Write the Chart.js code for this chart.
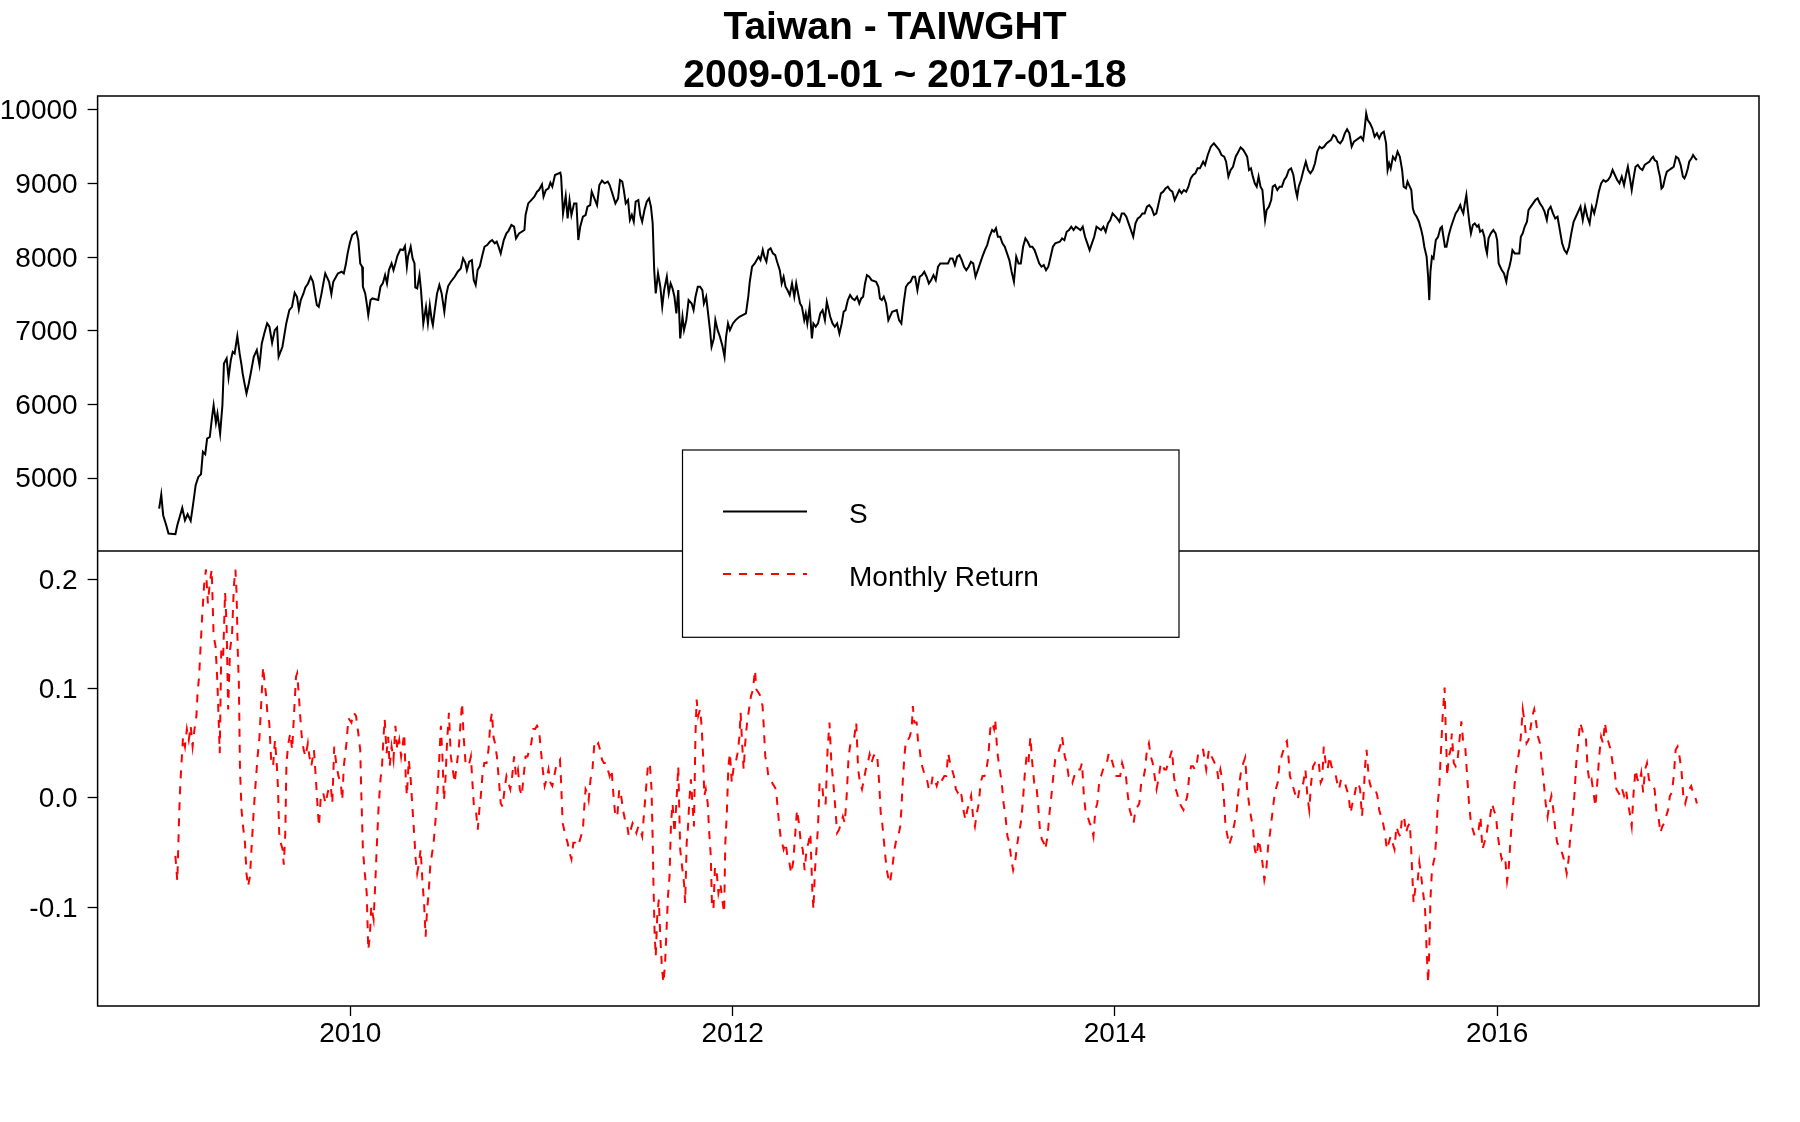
<!DOCTYPE html>
<html>
<head>
<meta charset="utf-8">
<script src="https://cdn.jsdelivr.net/npm/chart.js@4.4.0/dist/chart.umd.min.js"></script>
<style>
  html, body { margin: 0; padding: 0; background: #fff; }
  canvas { display: block; }
</style>
</head>
<body>
<canvas id="chart" width="1800" height="1122"></canvas>
<script>
const titleLines = ["Taiwan - TAIWGHT", "2009-01-01 ~ 2017-01-18"];
const yearTicks = [2010, 2012, 2014, 2016];
const priceTicks = [5000, 6000, 7000, 8000, 9000, 10000];
const returnTicks = [-0.1, 0.0, 0.1, 0.2];
const seriesNames = ["S", "Monthly Return"];

// index level S, [decimal year, value]
const sPoints = [
  [2009.000,4588],[2009.011,4778],[2009.021,4498],[2009.037,4362],[2009.049,4248],[2009.085,4239],[2009.095,4362],[2009.121,4597],[2009.135,4430],[2009.149,4511],
  [2009.165,4421],[2009.177,4634],[2009.191,4905],[2009.205,5018],[2009.219,5055],[2009.229,5358],[2009.241,5326],[2009.251,5539],[2009.265,5562],[2009.277,5834],
  [2009.285,5992],[2009.297,5752],[2009.305,5879],[2009.319,5607],[2009.331,5992],[2009.339,6558],[2009.353,6626],[2009.363,6368],[2009.375,6604],[2009.385,6717],
  [2009.395,6694],[2009.409,6930],[2009.421,6694],[2009.431,6536],[2009.437,6422],[2009.445,6309],[2009.457,6151],[2009.469,6287],[2009.479,6422],[2009.495,6649],
  [2009.511,6739],[2009.525,6536],[2009.537,6830],[2009.551,6975],[2009.565,7102],[2009.577,7057],[2009.591,6839],[2009.605,7011],[2009.617,7047],[2009.625,6649],
  [2009.645,6785],[2009.665,7102],[2009.681,7283],[2009.695,7328],[2009.709,7518],[2009.721,7464],[2009.731,7292],[2009.741,7419],[2009.755,7509],[2009.765,7591],
  [2009.779,7645],[2009.793,7736],[2009.805,7668],[2009.825,7351],[2009.835,7328],[2009.849,7500],[2009.859,7645],[2009.869,7781],[2009.889,7668],[2009.901,7500],
  [2009.911,7668],[2009.935,7781],[2009.955,7804],[2009.966,7781],[2009.976,7894],[2009.986,8053],[2009.998,8198],[2010.010,8302],[2010.032,8347],[2010.042,8234],
  [2010.052,7917],[2010.062,7872],[2010.066,7600],[2010.078,7509],[2010.086,7373],[2010.094,7215],[2010.106,7419],[2010.116,7441],[2010.146,7419],[2010.158,7600],
  [2010.170,7645],[2010.182,7758],[2010.192,7645],[2010.202,7826],[2010.216,7917],[2010.226,7826],[2010.236,7917],[2010.246,8017],[2010.262,8107],[2010.276,8098],
  [2010.286,8152],[2010.296,7872],[2010.302,8008],[2010.316,8143],[2010.326,7985],[2010.336,7917],[2010.340,7591],[2010.350,7577],[2010.362,7758],[2010.370,7555],
  [2010.382,7102],[2010.396,7328],[2010.406,7102],[2010.416,7351],[2010.426,7147],[2010.432,7079],[2010.442,7283],[2010.454,7509],[2010.466,7623],[2010.478,7509],
  [2010.492,7260],[2010.502,7487],[2010.512,7609],[2010.526,7668],[2010.546,7736],[2010.562,7804],[2010.578,7849],[2010.590,7985],[2010.602,7926],[2010.610,7826],
  [2010.622,7940],[2010.636,7962],[2010.646,7690],[2010.656,7623],[2010.666,7826],[2010.678,7881],[2010.690,8017],[2010.702,8143],[2010.716,8166],[2010.730,8211],
  [2010.742,8234],[2010.756,8189],[2010.766,8211],[2010.776,8143],[2010.787,8053],[2010.803,8234],[2010.817,8325],[2010.827,8356],[2010.843,8438],[2010.857,8415],
  [2010.867,8257],[2010.883,8325],[2010.911,8370],[2010.917,8574],[2010.931,8732],[2010.947,8777],[2010.963,8823],[2010.977,8891],[2010.987,8913],[2011.003,8990],
  [2011.011,8823],[2011.023,8913],[2011.037,8936],[2011.047,9013],[2011.057,8959],[2011.071,9117],[2011.099,9149],[2011.103,9095],[2011.113,8596],[2011.127,8832],
  [2011.137,8528],[2011.147,8777],[2011.157,8574],[2011.171,8732],[2011.183,8732],[2011.193,8234],[2011.203,8415],[2011.217,8551],[2011.231,8574],[2011.241,8687],
  [2011.255,8709],[2011.263,8891],[2011.277,8800],[2011.291,8709],[2011.303,8981],[2011.317,9040],[2011.331,9004],[2011.347,9027],[2011.357,8981],[2011.371,8868],
  [2011.387,8732],[2011.401,8800],[2011.411,9049],[2011.423,9027],[2011.431,8913],[2011.441,8732],[2011.453,8777],[2011.463,8506],[2011.473,8574],[2011.483,8483],
  [2011.493,8755],[2011.507,8777],[2011.517,8574],[2011.527,8483],[2011.539,8642],[2011.551,8755],[2011.563,8800],[2011.573,8687],[2011.582,8460],[2011.590,7826],
  [2011.598,7509],[2011.610,7781],[2011.622,7600],[2011.632,7328],[2011.642,7555],[2011.656,7736],[2011.666,7509],[2011.676,7645],[2011.686,7577],[2011.696,7464],
  [2011.706,7238],[2011.716,7555],[2011.726,6898],[2011.738,7192],[2011.746,7011],[2011.758,7147],[2011.770,7419],[2011.786,7373],[2011.796,7283],[2011.806,7464],
  [2011.818,7600],[2011.830,7600],[2011.842,7555],[2011.850,7373],[2011.862,7464],[2011.870,7283],[2011.882,7011],[2011.890,6785],[2011.902,6898],[2011.910,7147],
  [2011.922,7011],[2011.934,6921],[2011.946,6807],[2011.958,6649],[2011.966,6921],[2011.976,7102],[2011.986,7011],[2012.002,7102],[2012.016,7147],[2012.036,7192],
  [2012.070,7238],[2012.082,7464],[2012.090,7668],[2012.102,7872],[2012.116,7917],[2012.136,8008],[2012.146,7962],[2012.158,8098],[2012.166,8008],[2012.177,7940],
  [2012.187,8098],[2012.199,8121],[2012.211,8053],[2012.223,8030],[2012.233,7940],[2012.247,7826],[2012.257,7645],[2012.267,7736],[2012.277,7600],[2012.287,7555],
  [2012.299,7487],[2012.311,7645],[2012.323,7464],[2012.333,7645],[2012.343,7509],[2012.353,7373],[2012.363,7328],[2012.375,7147],[2012.383,7238],[2012.391,7102],
  [2012.403,7328],[2012.415,6898],[2012.423,7102],[2012.435,7057],[2012.447,7102],[2012.459,7238],[2012.471,7283],[2012.483,7147],[2012.493,7396],[2012.503,7283],
  [2012.511,7192],[2012.523,7102],[2012.535,7057],[2012.547,7102],[2012.559,6966],[2012.571,7102],[2012.581,7260],[2012.591,7283],[2012.603,7419],[2012.615,7487],
  [2012.627,7441],[2012.639,7419],[2012.651,7464],[2012.663,7373],[2012.673,7441],[2012.683,7464],[2012.693,7645],[2012.703,7758],[2012.715,7736],[2012.727,7690],
  [2012.751,7668],[2012.763,7600],[2012.771,7441],[2012.781,7419],[2012.791,7464],[2012.803,7373],[2012.815,7147],[2012.823,7192],[2012.835,7260],[2012.859,7283],
  [2012.871,7147],[2012.883,7102],[2012.895,7373],[2012.907,7600],[2012.919,7645],[2012.931,7668],[2012.943,7736],[2012.955,7736],[2012.967,7555],[2012.979,7736],
  [2012.991,7758],[2013.003,7804],[2013.015,7736],[2013.027,7645],[2013.039,7690],[2013.051,7758],[2013.063,7690],[2013.075,7872],[2013.087,7917],[2013.111,7917],
  [2013.127,7917],[2013.139,7985],[2013.151,7985],[2013.163,7894],[2013.175,8008],[2013.187,8030],[2013.199,7962],[2013.211,7872],[2013.223,7826],[2013.235,7872],
  [2013.247,7940],[2013.259,7917],[2013.271,7736],[2013.283,7826],[2013.295,7917],[2013.307,8008],[2013.320,8098],[2013.332,8166],[2013.344,8279],[2013.358,8370],
  [2013.368,8347],[2013.378,8393],[2013.388,8279],[2013.400,8279],[2013.412,8189],[2013.424,8143],[2013.436,8053],[2013.448,7962],[2013.460,7804],[2013.472,7668],
  [2013.484,8008],[2013.496,7917],[2013.508,7917],[2013.520,8143],[2013.532,8257],[2013.544,8211],[2013.556,8143],[2013.568,8143],[2013.580,8098],[2013.592,8008],
  [2013.604,7917],[2013.616,7872],[2013.628,7894],[2013.640,7826],[2013.652,7872],[2013.664,8008],[2013.676,8143],[2013.688,8189],[2013.712,8211],[2013.724,8257],
  [2013.736,8234],[2013.748,8347],[2013.760,8370],[2013.772,8415],[2013.784,8370],[2013.796,8415],[2013.820,8370],[2013.832,8415],[2013.844,8279],[2013.856,8189],
  [2013.868,8098],[2013.880,8189],[2013.892,8279],[2013.904,8415],[2013.928,8370],[2013.940,8415],[2013.952,8347],[2013.964,8460],[2013.976,8506],[2013.988,8596],
  [2014.012,8528],[2014.024,8483],[2014.036,8596],[2014.048,8596],[2014.060,8551],[2014.072,8460],[2014.084,8370],[2014.096,8279],[2014.108,8460],[2014.120,8528],
  [2014.132,8551],[2014.144,8596],[2014.156,8596],[2014.168,8687],[2014.180,8709],[2014.193,8664],[2014.205,8574],[2014.217,8596],[2014.229,8732],[2014.241,8868],
  [2014.253,8891],[2014.265,8936],[2014.277,8959],[2014.289,8913],[2014.301,8891],[2014.313,8777],[2014.325,8845],[2014.337,8913],[2014.349,8868],[2014.361,8913],
  [2014.373,8891],[2014.385,8959],[2014.397,9072],[2014.409,9117],[2014.421,9140],[2014.433,9208],[2014.445,9208],[2014.462,9298],[2014.472,9253],[2014.486,9389],
  [2014.502,9502],[2014.518,9547],[2014.532,9502],[2014.546,9457],[2014.558,9389],[2014.572,9366],[2014.582,9298],[2014.594,9095],[2014.606,9185],[2014.618,9230],
  [2014.632,9366],[2014.642,9412],[2014.658,9493],[2014.672,9457],[2014.682,9412],[2014.692,9366],[2014.702,9185],[2014.712,9208],[2014.722,9095],[2014.732,9004],
  [2014.742,8959],[2014.752,9095],[2014.762,8959],[2014.772,8913],[2014.778,8732],[2014.786,8506],[2014.794,8642],[2014.806,8687],[2014.818,8777],[2014.826,8959],
  [2014.838,8981],[2014.850,8913],[2014.862,8959],[2014.874,8959],[2014.886,9049],[2014.898,9095],[2014.910,9185],[2014.922,9208],[2014.934,9117],[2014.946,8913],
  [2014.954,8823],[2014.962,8959],[2014.974,9049],[2014.987,9185],[2014.999,9298],[2015.011,9185],[2015.023,9140],[2015.035,9185],[2015.047,9276],[2015.059,9434],
  [2015.071,9502],[2015.083,9479],[2015.095,9502],[2015.107,9547],[2015.119,9570],[2015.131,9593],[2015.143,9661],[2015.155,9638],[2015.167,9570],[2015.179,9547],
  [2015.191,9593],[2015.203,9683],[2015.215,9738],[2015.227,9683],[2015.239,9502],[2015.251,9570],[2015.263,9593],[2015.275,9615],[2015.287,9638],[2015.299,9593],
  [2015.307,9751],[2015.315,9955],[2015.323,9864],[2015.335,9819],[2015.347,9751],[2015.359,9638],[2015.371,9683],[2015.383,9615],[2015.395,9683],[2015.407,9706],
  [2015.419,9547],[2015.427,9185],[2015.435,9276],[2015.443,9208],[2015.455,9366],[2015.467,9321],[2015.479,9434],[2015.491,9366],[2015.503,9185],[2015.511,8959],
  [2015.523,8936],[2015.531,9027],[2015.543,8959],[2015.551,8913],[2015.559,8664],[2015.567,8596],[2015.579,8551],[2015.591,8483],[2015.603,8370],[2015.611,8279],
  [2015.619,8143],[2015.631,8008],[2015.639,7736],[2015.645,7419],[2015.651,7804],[2015.659,8008],[2015.667,7985],[2015.679,8234],[2015.691,8279],[2015.703,8393],
  [2015.711,8415],[2015.719,8279],[2015.727,8143],[2015.735,8143],[2015.747,8302],[2015.759,8415],[2015.771,8506],[2015.783,8596],[2015.795,8642],[2015.807,8709],
  [2015.815,8642],[2015.823,8596],[2015.831,8732],[2015.839,8845],[2015.847,8642],[2015.855,8460],[2015.863,8325],[2015.873,8438],[2015.883,8460],[2015.895,8415],
  [2015.903,8438],[2015.911,8347],[2015.923,8370],[2015.933,8279],[2015.939,8143],[2015.947,8053],[2015.955,8257],[2015.967,8325],[2015.980,8370],[2015.992,8325],
  [2016.000,8234],[2016.008,7917],[2016.016,7872],[2016.024,7826],[2016.036,7781],[2016.048,7668],[2016.056,7804],[2016.064,7872],[2016.072,7962],[2016.080,8098],
  [2016.092,8053],[2016.116,8053],[2016.124,8279],[2016.134,8325],[2016.144,8415],[2016.156,8483],[2016.164,8642],[2016.176,8687],[2016.188,8732],[2016.200,8777],
  [2016.212,8800],[2016.224,8732],[2016.236,8687],[2016.248,8619],[2016.260,8506],[2016.268,8642],[2016.280,8687],[2016.292,8596],[2016.304,8528],[2016.316,8551],
  [2016.328,8370],[2016.340,8189],[2016.352,8098],[2016.364,8053],[2016.376,8143],[2016.388,8325],[2016.400,8483],[2016.412,8551],[2016.424,8619],[2016.436,8687],
  [2016.448,8506],[2016.460,8687],[2016.472,8551],[2016.484,8460],[2016.496,8687],[2016.508,8596],[2016.520,8732],[2016.532,8891],[2016.544,9004],[2016.556,9049],
  [2016.568,9027],[2016.580,9049],[2016.592,9095],[2016.604,9185],[2016.616,9117],[2016.628,9049],[2016.640,9004],[2016.652,9095],[2016.664,8981],[2016.676,9140],
  [2016.684,9230],[2016.696,9049],[2016.704,8913],[2016.712,9049],[2016.724,9230],[2016.736,9253],[2016.748,9208],[2016.760,9185],[2016.772,9253],[2016.784,9276],
  [2016.796,9298],[2016.808,9344],[2016.816,9366],[2016.824,9321],[2016.836,9298],[2016.844,9185],[2016.852,9095],[2016.860,8936],[2016.868,8959],[2016.880,9095],
  [2016.888,9162],[2016.900,9185],[2016.912,9208],[2016.924,9230],[2016.936,9366],[2016.948,9344],[2016.960,9253],[2016.972,9095],[2016.980,9072],[2016.988,9117],
  [2016.998,9208],[2017.005,9298],[2017.017,9344],[2017.025,9389],[2017.037,9344],[2017.045,9321]
];

// monthly return, [decimal year, value]
const rPoints = [
  [2009.085,-0.053],[2009.095,-0.076],[2009.105,-0.014],[2009.111,0.014],[2009.117,0.032],[2009.125,0.056],[2009.135,0.047],[2009.145,0.063],[2009.155,0.053],[2009.165,0.066],
  [2009.175,0.047],[2009.185,0.063],[2009.195,0.075],[2009.201,0.096],[2009.209,0.111],[2009.217,0.139],[2009.225,0.166],[2009.235,0.194],[2009.245,0.209],[2009.255,0.178],
  [2009.265,0.197],[2009.275,0.209],[2009.285,0.148],[2009.295,0.139],[2009.305,0.105],[2009.317,0.041],[2009.325,0.136],[2009.335,0.130],[2009.345,0.188],[2009.353,0.157],
  [2009.361,0.081],[2009.371,0.136],[2009.381,0.148],[2009.391,0.194],[2009.399,0.209],[2009.405,0.188],[2009.411,0.136],[2009.417,0.105],[2009.423,0.026],[2009.431,-0.011],
  [2009.439,-0.026],[2009.449,-0.041],[2009.457,-0.069],[2009.465,-0.081],[2009.475,-0.072],[2009.485,-0.041],[2009.495,-0.011],[2009.505,0.014],[2009.515,0.038],[2009.525,0.056],
  [2009.536,0.093],[2009.544,0.120],[2009.552,0.105],[2009.560,0.093],[2009.566,0.078],[2009.576,0.069],[2009.586,0.035],[2009.596,0.029],[2009.606,0.053],[2009.616,0.029],
  [2009.622,0.008],[2009.628,-0.032],[2009.636,-0.041],[2009.646,-0.047],[2009.652,-0.061],[2009.660,-0.032],[2009.666,0.032],[2009.676,0.050],[2009.686,0.059],[2009.696,0.044],
  [2009.706,0.078],[2009.716,0.111],[2009.722,0.114],[2009.730,0.096],[2009.738,0.075],[2009.746,0.056],[2009.756,0.044],[2009.766,0.038],[2009.778,0.050],[2009.786,0.038],
  [2009.796,0.029],[2009.810,0.044],[2009.820,0.017],[2009.830,-0.011],[2009.836,-0.026],[2009.846,0.002],[2009.858,0.005],[2009.870,-0.005],[2009.886,0.008],[2009.898,0.011],
  [2009.906,-0.005],[2009.916,0.047],[2009.926,0.032],[2009.938,0.020],[2009.950,0.014],[2009.958,-0.002],[2009.966,0.029],[2009.980,0.050],[2009.990,0.073],[2010.006,0.069],
  [2010.018,0.078],[2010.030,0.075],[2010.042,0.059],[2010.052,0.044],[2010.058,0.002],[2010.066,-0.047],[2010.076,-0.069],[2010.086,-0.087],[2010.094,-0.139],[2010.102,-0.127],
  [2010.110,-0.099],[2010.122,-0.111],[2010.130,-0.081],[2010.138,-0.047],[2010.148,-0.008],[2010.158,0.017],[2010.166,0.029],[2010.174,0.056],[2010.180,0.072],[2010.190,0.041],
  [2010.198,0.056],[2010.206,0.029],[2010.216,0.047],[2010.226,0.035],[2010.236,0.066],[2010.246,0.044],[2010.256,0.053],[2010.266,0.038],[2010.282,0.059],[2010.290,0.020],
  [2010.296,0.002],[2010.306,0.035],[2010.316,0.017],[2010.326,-0.011],[2010.336,-0.038],[2010.342,-0.056],[2010.350,-0.069],[2010.360,-0.059],[2010.368,-0.047],[2010.378,-0.078],
  [2010.386,-0.096],[2010.394,-0.127],[2010.402,-0.102],[2010.410,-0.087],[2010.418,-0.063],[2010.426,-0.053],[2010.436,-0.041],[2010.446,-0.020],[2010.456,0.005],[2010.466,0.038],
  [2010.474,0.066],[2010.482,0.038],[2010.490,-0.002],[2010.498,0.017],[2010.506,0.050],[2010.516,0.078],[2010.526,0.038],[2010.536,0.026],[2010.546,0.014],[2010.556,0.029],
  [2010.567,0.044],[2010.577,0.069],[2010.585,0.087],[2010.593,0.056],[2010.603,0.032],[2010.613,0.029],[2010.623,0.032],[2010.631,0.038],[2010.639,0.014],[2010.647,-0.008],
  [2010.657,-0.011],[2010.667,-0.029],[2010.675,-0.011],[2010.683,0.002],[2010.691,0.020],[2010.701,0.032],[2010.713,0.032],[2010.723,0.044],[2010.733,0.069],[2010.741,0.078],
  [2010.749,0.056],[2010.757,0.050],[2010.767,0.038],[2010.777,0.017],[2010.787,-0.005],[2010.797,-0.008],[2010.807,0.008],[2010.817,0.020],[2010.827,0.014],[2010.837,0.008],
  [2010.847,0.020],[2010.857,0.038],[2010.867,0.020],[2010.877,0.026],[2010.887,0.008],[2010.897,0.002],[2010.907,0.020],[2010.917,0.038],[2010.927,0.038],[2010.937,0.044],
  [2010.947,0.050],[2010.957,0.063],[2010.967,0.063],[2010.977,0.066],[2010.987,0.063],[2010.997,0.044],[2011.007,0.026],[2011.017,0.011],[2011.027,0.017],[2011.037,0.026],
  [2011.047,0.014],[2011.057,0.011],[2011.067,0.020],[2011.077,0.029],[2011.087,0.032],[2011.097,0.035],[2011.103,0.014],[2011.111,-0.023],[2011.119,-0.029],[2011.127,-0.035],
  [2011.137,-0.041],[2011.147,-0.050],[2011.157,-0.056],[2011.167,-0.041],[2011.177,-0.041],[2011.187,-0.044],[2011.197,-0.041],[2011.207,-0.035],[2011.217,-0.029],[2011.223,-0.011],
  [2011.231,0.008],[2011.239,0.005],[2011.247,-0.002],[2011.257,0.017],[2011.267,0.026],[2011.277,0.050],[2011.287,0.047],[2011.297,0.050],[2011.307,0.044],[2011.317,0.035],
  [2011.327,0.032],[2011.337,0.032],[2011.347,0.026],[2011.357,0.020],[2011.367,0.026],[2011.377,0.002],[2011.387,-0.017],[2011.397,-0.017],[2011.407,0.008],[2011.417,0.002],
  [2011.427,-0.011],[2011.437,-0.020],[2011.447,-0.023],[2011.457,-0.035],[2011.467,-0.029],[2011.477,-0.023],[2011.487,-0.026],[2011.497,-0.032],[2011.507,-0.026],[2011.517,-0.029],
  [2011.527,-0.035],[2011.537,-0.014],[2011.547,0.008],[2011.557,0.029],[2011.567,0.032],[2011.576,0.008],[2011.582,-0.038],[2011.586,-0.078],[2011.592,-0.123],[2011.598,-0.145],
  [2011.606,-0.108],[2011.614,-0.093],[2011.622,-0.127],[2011.630,-0.154],[2011.638,-0.169],[2011.646,-0.154],[2011.654,-0.123],[2011.662,-0.090],[2011.670,-0.072],[2011.678,-0.023],
  [2011.686,-0.005],[2011.696,-0.032],[2011.706,-0.005],[2011.716,0.029],[2011.726,-0.047],[2011.736,-0.063],[2011.746,-0.078],[2011.752,-0.096],[2011.760,-0.041],[2011.766,-0.029],
  [2011.774,-0.002],[2011.782,0.017],[2011.790,-0.005],[2011.798,-0.026],[2011.806,0.059],[2011.812,0.090],[2011.820,0.075],[2011.830,0.081],[2011.838,0.066],[2011.846,0.038],
  [2011.852,0.002],[2011.860,0.008],[2011.870,-0.005],[2011.878,-0.032],[2011.886,-0.053],[2011.892,-0.096],[2011.900,-0.102],[2011.908,-0.063],[2011.916,-0.066],[2011.926,-0.087],
  [2011.936,-0.078],[2011.946,-0.093],[2011.956,-0.105],[2011.962,-0.041],[2011.970,-0.014],[2011.978,0.029],[2011.986,0.041],[2011.996,0.014],[2012.006,0.029],[2012.016,0.032],
  [2012.026,0.041],[2012.036,0.056],[2012.042,0.078],[2012.050,0.050],[2012.058,0.026],[2012.066,0.050],[2012.076,0.069],[2012.086,0.081],[2012.096,0.093],[2012.107,0.099],
  [2012.117,0.117],[2012.125,0.099],[2012.137,0.096],[2012.147,0.093],[2012.157,0.084],[2012.163,0.066],[2012.171,0.038],[2012.179,0.032],[2012.187,0.020],[2012.197,0.017],
  [2012.207,0.014],[2012.217,0.011],[2012.227,0.008],[2012.237,-0.011],[2012.243,-0.023],[2012.251,-0.035],[2012.259,-0.041],[2012.267,-0.047],[2012.277,-0.041],[2012.287,-0.053],
  [2012.297,-0.059],[2012.307,-0.069],[2012.317,-0.059],[2012.327,-0.035],[2012.337,-0.011],[2012.347,-0.023],[2012.357,-0.041],[2012.367,-0.047],[2012.377,-0.066],[2012.387,-0.047],
  [2012.397,-0.041],[2012.407,-0.032],[2012.417,-0.084],[2012.423,-0.102],[2012.431,-0.066],[2012.439,-0.047],[2012.447,-0.026],[2012.455,0.014],[2012.463,0.014],[2012.471,0.008],
  [2012.477,-0.005],[2012.487,-0.005],[2012.497,0.044],[2012.507,0.069],[2012.517,0.032],[2012.527,0.014],[2012.537,-0.008],[2012.547,-0.032],[2012.557,-0.029],[2012.567,-0.023],
  [2012.577,-0.017],[2012.587,-0.023],[2012.597,0.002],[2012.607,0.038],[2012.617,0.050],[2012.627,0.053],[2012.637,0.056],[2012.647,0.069],[2012.657,0.026],[2012.667,0.014],
  [2012.677,0.008],[2012.687,0.017],[2012.697,0.026],[2012.707,0.032],[2012.717,0.040],[2012.727,0.032],[2012.737,0.038],[2012.747,0.041],[2012.757,0.038],[2012.767,0.014],
  [2012.775,-0.014],[2012.783,-0.023],[2012.791,-0.038],[2012.799,-0.053],[2012.807,-0.066],[2012.817,-0.075],[2012.823,-0.078],[2012.831,-0.069],[2012.839,-0.059],[2012.847,-0.047],
  [2012.857,-0.038],[2012.867,-0.035],[2012.877,-0.026],[2012.883,-0.011],[2012.891,0.017],[2012.899,0.038],[2012.907,0.053],[2012.917,0.053],[2012.927,0.056],[2012.937,0.063],
  [2012.943,0.084],[2012.951,0.069],[2012.963,0.069],[2012.971,0.050],[2012.979,0.044],[2012.987,0.032],[2012.997,0.026],[2013.007,0.020],[2013.017,0.017],[2013.027,0.008],
  [2013.037,0.008],[2013.047,0.020],[2013.057,0.017],[2013.068,0.011],[2013.078,0.017],[2013.088,0.014],[2013.098,0.017],[2013.108,0.020],[2013.118,0.020],[2013.128,0.041],
  [2013.138,0.032],[2013.148,0.026],[2013.158,0.020],[2013.168,0.008],[2013.178,0.005],[2013.188,0.008],[2013.198,0.002],[2013.208,-0.011],[2013.218,-0.020],[2013.228,-0.011],
  [2013.238,-0.005],[2013.248,0.002],[2013.258,-0.017],[2013.268,-0.026],[2013.278,-0.014],[2013.288,-0.005],[2013.298,0.014],[2013.308,0.020],[2013.318,0.020],[2013.328,0.026],
  [2013.338,0.038],[2013.348,0.063],[2013.358,0.069],[2013.368,0.063],[2013.374,0.072],[2013.382,0.050],[2013.388,0.038],[2013.398,0.026],[2013.408,0.014],[2013.418,-0.005],
  [2013.428,-0.017],[2013.438,-0.035],[2013.448,-0.041],[2013.458,-0.056],[2013.468,-0.066],[2013.478,-0.059],[2013.488,-0.044],[2013.498,-0.032],[2013.508,-0.023],[2013.518,-0.005],
  [2013.528,0.020],[2013.538,0.038],[2013.548,0.032],[2013.558,0.056],[2013.568,0.032],[2013.578,0.014],[2013.588,0.014],[2013.598,-0.005],[2013.608,-0.029],[2013.618,-0.038],
  [2013.628,-0.041],[2013.636,-0.047],[2013.648,-0.035],[2013.658,-0.014],[2013.668,0.002],[2013.678,0.020],[2013.688,0.035],[2013.698,0.038],[2013.708,0.044],[2013.718,0.050],
  [2013.724,0.056],[2013.738,0.038],[2013.748,0.032],[2013.758,0.020],[2013.768,0.020],[2013.778,0.014],[2013.788,0.020],[2013.798,0.020],[2013.808,0.026],[2013.818,0.026],
  [2013.828,0.032],[2013.838,0.002],[2013.848,-0.014],[2013.858,-0.017],[2013.868,-0.023],[2013.878,-0.026],[2013.888,-0.035],[2013.898,-0.011],[2013.908,-0.005],[2013.918,0.014],
  [2013.928,0.020],[2013.938,0.026],[2013.948,0.029],[2013.958,0.032],[2013.968,0.041],[2013.978,0.038],[2013.988,0.032],[2013.998,0.026],[2014.008,0.020],[2014.018,0.020],
  [2014.028,0.020],[2014.038,0.032],[2014.048,0.026],[2014.058,0.020],[2014.068,0.002],[2014.078,-0.011],[2014.088,-0.017],[2014.098,-0.023],[2014.108,-0.011],[2014.118,-0.008],
  [2014.128,-0.005],[2014.138,0.014],[2014.148,0.017],[2014.158,0.026],[2014.168,0.044],[2014.178,0.050],[2014.188,0.038],[2014.198,0.032],[2014.208,0.020],[2014.218,0.008],
  [2014.228,0.017],[2014.238,0.029],[2014.248,0.032],[2014.259,0.026],[2014.269,0.026],[2014.279,0.032],[2014.289,0.038],[2014.299,0.044],[2014.309,0.020],[2014.319,0.008],
  [2014.329,0.002],[2014.339,-0.005],[2014.349,-0.008],[2014.359,-0.011],[2014.369,-0.005],[2014.379,0.002],[2014.389,0.020],[2014.399,0.029],[2014.409,0.029],[2014.419,0.026],
  [2014.429,0.032],[2014.439,0.044],[2014.462,0.044],[2014.478,0.026],[2014.492,0.044],[2014.506,0.038],[2014.522,0.032],[2014.532,0.029],[2014.542,0.017],[2014.552,0.026],
  [2014.562,0.017],[2014.572,-0.005],[2014.578,-0.023],[2014.586,-0.032],[2014.598,-0.043],[2014.612,-0.035],[2014.626,-0.023],[2014.638,-0.011],[2014.646,0.005],[2014.654,0.017],
  [2014.662,0.026],[2014.672,0.032],[2014.682,0.037],[2014.692,0.008],[2014.702,-0.005],[2014.712,-0.017],[2014.722,-0.026],[2014.732,-0.047],[2014.742,-0.053],[2014.752,-0.038],
  [2014.762,-0.047],[2014.772,-0.059],[2014.782,-0.075],[2014.792,-0.066],[2014.802,-0.044],[2014.812,-0.032],[2014.822,-0.017],[2014.832,-0.002],[2014.842,0.008],[2014.852,0.014],
  [2014.862,0.032],[2014.872,0.038],[2014.882,0.044],[2014.892,0.050],[2014.900,0.052],[2014.908,0.038],[2014.916,0.020],[2014.926,0.014],[2014.936,0.008],[2014.946,0.002],
  [2014.956,-0.002],[2014.966,0.008],[2014.976,0.008],[2014.986,0.014],[2014.997,0.026],[2015.007,0.002],[2015.017,-0.011],[2015.027,0.014],[2015.037,0.029],[2015.047,0.032],
  [2015.057,0.029],[2015.067,0.032],[2015.077,0.014],[2015.085,0.017],[2015.093,0.047],[2015.103,0.032],[2015.113,0.026],[2015.123,0.038],[2015.133,0.029],[2015.143,0.026],
  [2015.153,0.023],[2015.163,0.014],[2015.173,0.008],[2015.183,0.017],[2015.193,0.017],[2015.203,0.014],[2015.213,0.008],[2015.223,0.002],[2015.233,-0.014],[2015.243,-0.005],
  [2015.253,0.002],[2015.263,0.011],[2015.273,0.014],[2015.283,0.008],[2015.293,-0.017],[2015.303,0.008],[2015.309,0.029],[2015.317,0.044],[2015.325,0.026],[2015.333,0.014],
  [2015.343,0.008],[2015.363,0.008],[2015.373,0.002],[2015.383,-0.011],[2015.393,-0.017],[2015.403,-0.023],[2015.413,-0.032],[2015.423,-0.047],[2015.433,-0.041],[2015.443,-0.035],
  [2015.453,-0.041],[2015.463,-0.047],[2015.473,-0.026],[2015.483,-0.032],[2015.493,-0.035],[2015.503,-0.017],[2015.513,-0.017],[2015.523,-0.032],[2015.533,-0.026],[2015.543,-0.023],
  [2015.549,-0.041],[2015.555,-0.066],[2015.563,-0.096],[2015.573,-0.081],[2015.583,-0.078],[2015.593,-0.059],[2015.603,-0.072],[2015.613,-0.087],[2015.623,-0.102],[2015.631,-0.139],
  [2015.639,-0.169],[2015.645,-0.139],[2015.651,-0.093],[2015.659,-0.066],[2015.667,-0.059],[2015.675,-0.053],[2015.683,-0.032],[2015.689,-0.005],[2015.697,0.008],[2015.703,0.032],
  [2015.709,0.053],[2015.715,0.075],[2015.725,0.101],[2015.731,0.063],[2015.739,0.020],[2015.747,0.038],[2015.757,0.044],[2015.763,0.059],[2015.773,0.032],[2015.783,0.029],
  [2015.793,0.035],[2015.803,0.053],[2015.813,0.070],[2015.823,0.050],[2015.833,0.047],[2015.843,0.020],[2015.853,-0.005],[2015.863,-0.023],[2015.873,-0.029],[2015.883,-0.035],
  [2015.903,-0.029],[2015.913,-0.017],[2015.923,-0.047],[2015.933,-0.041],[2015.943,-0.035],[2015.953,-0.023],[2015.963,-0.017],[2015.973,-0.005],[2015.983,-0.011],[2015.994,-0.017],
  [2016.004,-0.035],[2016.014,-0.047],[2016.024,-0.056],[2016.034,-0.053],[2016.044,-0.059],[2016.052,-0.076],[2016.060,-0.066],[2016.068,-0.044],[2016.076,-0.023],[2016.084,-0.005],
  [2016.092,0.014],[2016.100,0.026],[2016.108,0.035],[2016.116,0.044],[2016.124,0.056],[2016.134,0.081],[2016.144,0.069],[2016.154,0.050],[2016.164,0.053],[2016.174,0.063],
  [2016.184,0.075],[2016.194,0.081],[2016.204,0.069],[2016.214,0.056],[2016.224,0.050],[2016.234,0.032],[2016.244,0.014],[2016.254,-0.005],[2016.264,-0.017],[2016.274,-0.005],
  [2016.284,0.002],[2016.294,-0.011],[2016.304,-0.029],[2016.314,-0.041],[2016.334,-0.047],[2016.344,-0.053],[2016.354,-0.059],[2016.364,-0.069],[2016.374,-0.056],[2016.384,-0.032],
  [2016.394,-0.017],[2016.404,0.002],[2016.414,0.032],[2016.424,0.050],[2016.434,0.069],[2016.444,0.063],[2016.454,0.056],[2016.464,0.056],[2016.474,0.026],[2016.484,0.014],
  [2016.494,0.017],[2016.504,0.005],[2016.514,-0.008],[2016.524,0.014],[2016.534,0.038],[2016.544,0.056],[2016.554,0.050],[2016.564,0.069],[2016.574,0.056],[2016.584,0.050],
  [2016.594,0.044],[2016.604,0.032],[2016.614,0.026],[2016.624,0.008],[2016.644,0.002],[2016.654,0.008],[2016.664,0.002],[2016.674,0.008],[2016.684,-0.005],[2016.694,-0.014],
  [2016.704,-0.026],[2016.714,0.005],[2016.724,0.026],[2016.734,0.017],[2016.744,0.014],[2016.754,0.023],[2016.764,0.005],[2016.774,0.026],[2016.784,0.032],[2016.794,0.017],
  [2016.804,0.014],[2016.824,0.008],[2016.834,-0.014],[2016.844,-0.017],[2016.854,-0.032],[2016.864,-0.026],[2016.874,-0.023],[2016.884,-0.017],[2016.894,-0.011],[2016.904,0.002],
  [2016.914,0.005],[2016.924,0.020],[2016.934,0.044],[2016.944,0.047],[2016.954,0.038],[2016.964,0.026],[2016.974,0.002],[2016.984,-0.005],[2016.994,0.002],[2017.005,0.008],
  [2017.015,0.011],[2017.025,0.005],[2017.035,0.002],[2017.045,-0.005]
];

const FONT = '"Liberation Sans", Arial, sans-serif';
Chart.defaults.font.family = FONT;
Chart.defaults.color = '#000';

// title, box, panel divider and legend like R's base graphics
const rFrame = {
    id: 'rFrame',
    afterDraw(chart) {
        const ctx = chart.ctx;
        const a = chart.chartArea;
        const divider = chart.scales.y2.top;
        ctx.save();
        ctx.strokeStyle = '#000';
        ctx.lineWidth = 1.5;
        ctx.strokeRect(a.left, a.top, a.right - a.left, a.bottom - a.top);
        ctx.beginPath();
        ctx.moveTo(a.left, divider);
        ctx.lineTo(a.right, divider);
        ctx.stroke();

        ctx.fillStyle = '#000';
        ctx.font = 'bold 39px ' + FONT;
        ctx.textAlign = 'center';
        ctx.textBaseline = 'alphabetic';
        ctx.fillText(titleLines[0], 895, 39);
        ctx.fillText(titleLines[1], 905, 87);

        // legend box
        const lx = 682.5, ly = 450, lw = 496.5, lh = 187.3;
        ctx.fillStyle = '#fff';
        ctx.fillRect(lx, ly, lw, lh);
        ctx.lineWidth = 1.2;
        ctx.strokeRect(lx, ly, lw, lh);
        const rows = [
            { y: 511.5, color: '#000', dash: [] },
            { y: 574, color: '#ff0000', dash: [8, 8] }
        ];
        rows.forEach((r, i) => {
            ctx.beginPath();
            ctx.setLineDash(r.dash);
            ctx.strokeStyle = r.color;
            ctx.lineWidth = 2;
            ctx.moveTo(723, r.y);
            ctx.lineTo(807, r.y);
            ctx.stroke();
            ctx.setLineDash([]);
            ctx.fillStyle = '#000';
            ctx.font = '28px ' + FONT;
            ctx.textAlign = 'left';
            ctx.fillText(seriesNames[i], 849, r.y + 11.5);
        });
        ctx.restore();
    }
};

function tickMarks() {
    return { drawOnChartArea: false, drawTicks: true, tickLength: 10, tickColor: '#000', tickWidth: 1.3 };
}

new Chart(document.getElementById('chart'), {
    type: 'line',
    data: {
        datasets: [
            {
                label: seriesNames[0],
                data: sPoints.map(p => ({ x: p[0], y: p[1] })),
                yAxisID: 'y',
                borderColor: '#000',
                borderWidth: 2,
                pointRadius: 0,
                tension: 0
            },
            {
                label: seriesNames[1],
                data: rPoints.map(p => ({ x: p[0], y: p[1] })),
                yAxisID: 'y2',
                borderColor: '#ff0000',
                borderWidth: 2,
                borderDash: [8, 8],
                pointRadius: 0,
                tension: 0
            }
        ]
    },
    options: {
        responsive: false,
        animation: false,
        devicePixelRatio: 1,
        layout: { padding: { top: 96, right: 41, left: 0, bottom: 0 } },
        plugins: { legend: { display: false }, title: { display: false }, tooltip: { enabled: false } },
        scales: {
            x: {
                type: 'linear',
                position: 'bottom',
                min: 2008.678,
                max: 2017.37,
                afterBuildTicks: s => { s.ticks = yearTicks.map(v => ({ value: v })); },
                afterFit: s => { s.height = 116; },
                grid: tickMarks(),
                border: { display: false },
                ticks: { callback: v => String(v), autoSkip: false, maxRotation: 0, padding: 1, font: { size: 28 } }
            },
            y: {
                type: 'linear',
                position: 'left',
                stack: 'panels',
                stackWeight: 1,
                weight: 2,
                min: 4012,
                max: 10190,
                afterBuildTicks: s => { s.ticks = priceTicks.map(v => ({ value: v })); },
                afterFit: s => { s.width = 97.6; },
                grid: tickMarks(),
                border: { display: false },
                ticks: { callback: v => String(v), padding: 10, labelOffset: 1.5, font: { size: 28 } }
            },
            y2: {
                type: 'linear',
                position: 'left',
                stack: 'panels',
                stackWeight: 1,
                weight: 1,
                min: -0.1903,
                max: 0.2259,
                afterBuildTicks: s => { s.ticks = returnTicks.map(v => ({ value: v })); },
                afterFit: s => { s.width = 97.6; },
                grid: tickMarks(),
                border: { display: false },
                ticks: { callback: v => Number(v).toFixed(1), padding: 10, labelOffset: 1.5, font: { size: 28 } }
            }
        }
    },
    plugins: [rFrame]
});
</script>
</body>
</html>
